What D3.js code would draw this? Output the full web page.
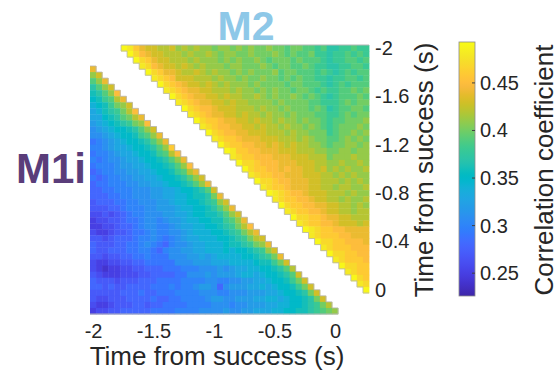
<!DOCTYPE html>
<html>
<head>
<meta charset="utf-8">
<script src="https://cdn.jsdelivr.net/npm/d3@7"></script>
<style>
  body { margin: 0; background: #fff; }
  svg { display: block; }
  text { font-family: "Liberation Sans", Arial, Helvetica, sans-serif; }
</style>
</head>
<body>
<svg id="chart" width="558" height="379"></svg>
<script>
// Time bins: -2 s .. 0 s in 50 ms steps
const timeBins = d3.range(41).map(i => +(-2 + i * 0.05).toFixed(2));
const xTicks = [-2, -1.5, -1, -0.5, 0];
const yTicks = [-2, -1.6, -1.2, -0.8, -0.4, 0];
const cbTicks = [0.25, 0.3, 0.35, 0.4, 0.45];
const cbDomain = [0.226, 0.493];

// M1i correlation (x100); row r holds columns 0..r
const m1iRows = [
  [44],
  [41,43],
  [39,41,44],
  [37,39,41,43],
  [36,37,39,41,45],
  [35,36,38,39,42,44],
  [34,35,36,38,40,41,43],
  [33,34,36,37,38,40,42,45],
  [33,33,35,36,37,39,40,42,44],
  [32,33,34,35,36,37,38,40,41,45],
  [31,32,33,34,35,35,36,37,39,41,43],
  [31,31,32,33,34,35,35,36,38,39,41,44],
  [29,30,31,32,33,34,35,35,36,37,39,41,44],
  [30,30,31,32,33,33,34,35,35,36,37,39,41,46],
  [29,30,30,31,32,33,33,34,35,35,36,38,39,42,45],
  [30,29,30,31,31,32,33,33,34,35,35,36,37,39,41,44],
  [29,30,30,30,31,32,32,33,33,34,35,35,36,37,39,41,45],
  [28,29,30,30,31,31,32,32,33,33,34,35,35,36,38,39,42,44],
  [29,28,29,30,30,31,31,32,32,33,33,34,35,35,36,37,39,41,43],
  [28,29,29,30,30,30,31,31,32,32,33,33,34,35,35,36,37,39,41,44],
  [28,28,29,29,30,30,30,31,31,31,32,32,33,33,34,35,35,36,37,39,43],
  [28,28,28,29,29,30,30,31,31,31,32,32,33,33,34,34,35,36,36,37,40,44],
  [27,28,28,28,29,29,30,30,31,31,31,32,32,33,34,34,35,35,36,37,38,41,43],
  [27,27,27,28,28,29,30,30,30,31,31,32,32,32,33,34,34,35,35,36,37,39,41,44],
  [26,26,27,26,27,28,29,30,30,31,31,31,32,32,33,33,34,35,35,36,36,37,39,41,43],
  [25,26,26,27,27,28,29,29,30,31,31,30,31,32,32,33,34,34,35,35,36,36,38,39,41,44],
  [25,25,26,26,27,28,28,29,30,31,31,30,30,31,32,33,33,34,34,35,35,36,37,38,40,42,45],
  [26,25,25,26,27,27,28,29,29,30,31,30,30,31,31,32,33,34,34,34,35,35,36,37,38,40,42,44],
  [27,27,26,27,28,28,28,29,30,30,31,30,29,30,31,32,33,33,34,34,34,35,35,36,37,38,40,42,43],
  [28,27,27,27,28,28,29,29,30,31,30,29,28,30,31,31,32,33,33,34,34,34,35,36,36,37,38,40,41,44],
  [28,27,27,28,28,28,29,29,30,30,29,28,30,31,31,32,32,33,33,34,34,34,35,34,35,35,36,37,38,41,43],
  [27,27,26,27,27,28,28,29,29,30,29,29,29,31,31,31,32,32,33,32,33,34,34,34,34,35,35,36,37,38,40,44],
  [26,25,25,26,26,27,27,28,28,29,29,29,29,29,31,31,31,32,32,32,33,33,33,34,34,34,34,35,36,36,38,40,43],
  [26,25,24,25,25,26,26,27,27,28,28,28,29,29,29,30,30,30,31,31,31,32,31,32,33,33,34,34,35,35,36,37,39,42],
  [27,26,25,25,25,26,26,26,27,27,28,28,28,28,29,29,31,31,31,32,31,32,32,32,33,34,34,33,34,35,35,36,37,39,43],
  [28,27,27,27,26,27,27,27,28,28,28,29,29,29,29,30,30,30,30,31,31,30,30,31,31,32,32,33,33,34,35,35,36,38,40,43],
  [28,28,27,28,27,27,28,28,28,28,29,29,29,30,29,30,30,31,32,32,31,28,31,32,32,32,33,33,34,33,34,35,35,36,38,40,43],
  [27,27,27,27,27,28,28,28,29,28,28,29,29,29,30,30,30,30,31,31,31,30,30,31,31,31,32,32,32,33,33,34,35,35,36,37,40,43],
  [27,26,26,27,27,27,28,28,28,28,29,28,28,29,29,30,30,30,30,31,32,32,31,31,32,32,32,33,33,34,34,33,34,35,35,36,37,40,43],
  [26,25,25,26,27,27,27,28,28,27,28,28,29,29,29,29,30,30,30,30,31,31,31,30,31,31,32,32,32,33,33,34,34,35,35,36,37,38,40,42],
  [25,26,26,27,27,28,28,28,28,28,29,29,29,29,30,30,30,30,31,31,31,31,32,31,31,32,32,33,33,33,34,34,35,35,36,36,37,38,39,40,41]
];

// M2 correlation (x100); row r holds columns r..40
const m2Rows = [
  [49,48,46,44,43,43,42,42,43,41,42,41,42,41,41,40,41,41,40,41,40,41,40,40,41,40,40,39,40,40,39,39,38,39,37,37,38,38,39,38,38],
  [49,47,45,44,43,43,42,42,42,41,42,41,41,42,41,40,41,41,40,40,41,40,40,40,41,40,39,40,39,39,40,38,38,37,38,38,39,38,39,38],
  [49,47,46,44,43,43,42,42,42,41,42,41,41,41,40,41,40,41,40,40,41,40,39,40,40,40,39,40,39,39,39,38,37,38,38,39,39,38,39],
  [48,47,45,44,43,43,42,43,42,41,42,41,41,41,40,41,41,40,40,40,41,40,39,40,40,39,39,40,39,38,38,37,37,38,38,39,39,38],
  [49,47,46,44,44,43,42,42,43,42,41,42,41,41,40,41,40,41,40,40,40,41,39,40,40,39,39,39,38,39,38,37,38,39,38,39,39],
  [48,47,46,45,43,43,43,42,42,42,41,42,41,41,40,41,40,40,41,40,40,39,40,39,40,39,39,38,38,37,38,38,39,39,38,39],
  [49,47,46,45,44,43,43,42,43,42,41,42,41,41,41,40,41,40,40,40,40,39,40,40,39,39,39,38,37,38,39,38,39,39,39],
  [48,47,46,45,44,44,43,43,42,42,42,41,42,41,41,40,41,40,41,40,40,39,40,40,39,38,39,38,38,39,39,40,39,40],
  [49,47,46,45,44,44,43,43,42,43,42,42,41,41,42,41,40,41,40,40,41,40,39,40,39,38,37,38,39,39,39,40,39],
  [48,47,46,45,44,44,43,43,42,43,42,42,41,41,41,41,40,41,40,40,40,40,39,39,38,38,38,39,40,39,40,40],
  [49,47,46,45,45,44,43,43,43,42,42,42,41,42,41,41,40,41,40,40,40,39,40,39,37,38,39,39,40,40,39],
  [48,47,46,45,44,44,43,43,42,43,42,42,41,42,41,41,40,41,40,40,40,39,39,38,38,39,40,39,40,40],
  [49,47,46,46,45,44,44,43,43,42,43,42,42,41,42,41,41,40,41,40,40,39,38,39,39,40,40,40,41],
  [48,47,46,45,45,44,44,43,43,42,43,42,42,41,42,41,41,40,41,40,39,38,39,40,40,40,41,40],
  [49,47,46,45,45,44,44,43,43,43,42,42,42,41,42,41,41,40,40,40,38,39,40,40,41,40,41],
  [48,47,46,46,45,44,44,44,43,43,43,42,42,42,41,42,41,40,40,39,39,40,41,40,41,40],
  [49,47,46,46,45,45,44,44,43,44,43,42,43,42,42,41,41,40,39,40,40,41,41,40,41],
  [49,48,46,46,45,45,44,44,44,43,43,43,42,42,42,41,41,40,40,41,41,40,41,41],
  [48,47,46,46,45,45,45,44,44,44,43,43,43,42,42,42,40,41,41,41,42,41,41],
  [49,47,47,46,45,45,45,44,44,44,43,43,43,42,42,41,41,42,41,41,42,41],
  [49,47,46,46,45,45,44,45,44,44,43,43,42,43,41,42,41,42,41,41,42],
  [48,47,46,46,45,45,44,44,44,43,43,43,42,42,41,42,41,42,41,41],
  [49,47,47,46,45,45,44,44,44,43,43,42,42,42,41,42,41,42,41],
  [48,47,46,46,45,44,44,44,43,43,42,42,41,42,42,41,41,42],
  [49,48,47,46,45,45,44,43,43,43,42,42,42,41,42,41,41],
  [48,47,46,46,45,45,44,43,43,42,42,41,42,41,41,42],
  [49,47,46,46,45,45,44,44,43,43,42,42,41,42,41],
  [48,47,46,46,45,45,44,43,43,42,42,41,42,42],
  [49,47,47,46,46,45,44,44,43,43,42,42,42],
  [48,47,46,46,45,45,44,43,43,43,42,43],
  [49,48,47,46,46,45,45,44,44,44,44],
  [48,47,46,46,46,45,45,44,44,44],
  [49,47,47,46,46,45,45,45,44],
  [48,47,46,46,46,45,45,45],
  [49,47,47,46,46,45,45],
  [48,47,46,46,46,45],
  [49,47,47,46,46],
  [48,47,46,46],
  [49,47,46],
  [48,47],
  [49]
];

// Parula colormap control colours
const parulaStops = [
  [0.2422,0.1504,0.6603],[0.2504,0.1650,0.7076],[0.2578,0.1818,0.7511],[0.2647,0.1978,0.7952],
  [0.2706,0.2147,0.8364],[0.2751,0.2342,0.8710],[0.2783,0.2559,0.8991],[0.2803,0.2782,0.9221],
  [0.2813,0.3006,0.9414],[0.2810,0.3228,0.9579],[0.2795,0.3447,0.9717],[0.2760,0.3667,0.9829],
  [0.2699,0.3892,0.9906],[0.2602,0.4123,0.9952],[0.2440,0.4358,0.9988],[0.2206,0.4603,0.9973],
  [0.1963,0.4847,0.9892],[0.1834,0.5074,0.9798],[0.1786,0.5289,0.9682],[0.1764,0.5499,0.9520],
  [0.1687,0.5703,0.9359],[0.1540,0.5902,0.9218],[0.1460,0.6091,0.9079],[0.1380,0.6276,0.8973],
  [0.1248,0.6459,0.8883],[0.1113,0.6635,0.8763],[0.0952,0.6798,0.8598],[0.0689,0.6948,0.8394],
  [0.0297,0.7082,0.8163],[0.0036,0.7203,0.7917],[0.0067,0.7312,0.7660],[0.0433,0.7411,0.7394],
  [0.0964,0.7500,0.7120],[0.1408,0.7584,0.6842],[0.1717,0.7670,0.6554],[0.1938,0.7758,0.6251],
  [0.2161,0.7843,0.5923],[0.2470,0.7918,0.5567],[0.2906,0.7973,0.5188],[0.3406,0.8008,0.4789],
  [0.3909,0.8029,0.4354],[0.4456,0.8024,0.3909],[0.5044,0.7993,0.3480],[0.5616,0.7942,0.3045],
  [0.6174,0.7876,0.2612],[0.6720,0.7793,0.2227],[0.7242,0.7698,0.1910],[0.7738,0.7598,0.1646],
  [0.8203,0.7498,0.1535],[0.8634,0.7406,0.1596],[0.9035,0.7330,0.1774],[0.9393,0.7288,0.2100],
  [0.9728,0.7298,0.2394],[0.9956,0.7434,0.2371],[0.9970,0.7659,0.2199],[0.9952,0.7893,0.2028],
  [0.9892,0.8136,0.1885],[0.9786,0.8386,0.1766],[0.9676,0.8639,0.1643],[0.9610,0.8890,0.1537],
  [0.9597,0.9135,0.1423],[0.9628,0.9373,0.1265],[0.9691,0.9606,0.1064],[0.9769,0.9839,0.0805]
];

const svg = d3.select("#chart");
const textColor = "#262626";
const edgeColor = "#b5b5b5";
const font = "'Liberation Sans', Arial, sans-serif";

const parulaHex = parulaStops.map(c => d3.rgb(c[0] * 255, c[1] * 255, c[2] * 255).formatHex());
const color = d3.scaleLinear()
  .domain(parulaHex.map((_, i) => cbDomain[0] + (cbDomain[1] - cbDomain[0]) * i / (parulaHex.length - 1)))
  .range(parulaHex)
  .interpolate(d3.interpolateRgb)
  .clamp(true);

// Cell grids for the two triangles
const lowerX = d3.scaleBand().domain(timeBins).range([90, 338]);
const lowerY = d3.scaleBand().domain(timeBins).range([66, 314]);
const upperX = d3.scaleBand().domain(timeBins).range([121, 369]);
const upperY = d3.scaleBand().domain(timeBins).range([45, 293]);
const bw = lowerX.bandwidth();

// Continuous scales for the axes
const lowerXLin = d3.scaleLinear().domain([-2.025, 0.025]).range([90, 338]);
const upperYLin = d3.scaleLinear().domain([-2.025, 0.025]).range([45, 293]);

const lowerCells = m1iRows.flatMap((row, r) => row.map((v, i) => ({ r, c: i, v: v / 100 })));
const upperCells = m2Rows.flatMap((row, r) => row.map((v, i) => ({ r, c: r + i, v: v / 100 })));

svg.append("g").attr("class", "m1i")
  .selectAll("rect").data(lowerCells).join("rect")
  .attr("x", d => lowerX(timeBins[d.c]))
  .attr("y", d => lowerY(timeBins[d.r]))
  .attr("width", bw + 0.4)
  .attr("height", bw + 0.4)
  .attr("fill", d => color(d.v));

svg.append("g").attr("class", "m2")
  .selectAll("rect").data(upperCells).join("rect")
  .attr("x", d => upperX(timeBins[d.c]))
  .attr("y", d => upperY(timeBins[d.r]))
  .attr("width", bw + 0.4)
  .attr("height", bw + 0.4)
  .attr("fill", d => color(d.v));

// Staircase edges along the diagonals
const lowerEdge = d3.path();
lowerEdge.moveTo(lowerX(timeBins[0]), lowerY(timeBins[0]));
timeBins.forEach(t => {
  lowerEdge.lineTo(lowerX(t) + bw, lowerY(t));
  lowerEdge.lineTo(lowerX(t) + bw, lowerY(t) + bw);
});
svg.append("path").attr("d", lowerEdge.toString())
  .attr("fill", "none").attr("stroke", edgeColor).attr("stroke-width", 0.8);

const upperEdge = d3.path();
upperEdge.moveTo(upperX(timeBins[0]), upperY(timeBins[0]));
timeBins.forEach(t => {
  upperEdge.lineTo(upperX(t), upperY(t) + bw);
  upperEdge.lineTo(upperX(t) + bw, upperY(t) + bw);
});
svg.append("path").attr("d", upperEdge.toString())
  .attr("fill", "none").attr("stroke", edgeColor).attr("stroke-width", 0.8);

// Outer edges: bottom of M1i, top of M2
svg.append("line")
  .attr("x1", lowerXLin.range()[0]).attr("x2", lowerXLin.range()[1])
  .attr("y1", 314).attr("y2", 314)
  .attr("stroke", edgeColor).attr("stroke-width", 1);
svg.append("line")
  .attr("x1", upperX.range()[0]).attr("x2", upperX.range()[1])
  .attr("y1", 45).attr("y2", 45)
  .attr("stroke", edgeColor).attr("stroke-width", 1);

// Bottom axis
const xAxis = svg.append("g")
  .attr("transform", "translate(0,314)")
  .call(d3.axisBottom(lowerXLin).tickValues(xTicks).tickFormat(d => String(d)).tickSize(0).tickPadding(10));
xAxis.select(".domain").remove();
xAxis.selectAll("text").attr("font-size", 20).attr("fill", textColor).attr("font-family", font);

svg.append("text")
  .attr("x", 217).attr("y", 365)
  .attr("text-anchor", "middle")
  .attr("font-size", 26).attr("fill", textColor)
  .text("Time from success (s)");

// Right axis
const yAxis = svg.append("g")
  .attr("transform", "translate(369,0)")
  .call(d3.axisRight(upperYLin).tickValues(yTicks).tickFormat(d => String(d)).tickSize(0).tickPadding(6));
yAxis.select(".domain").remove();
yAxis.selectAll("text").attr("font-size", 20).attr("fill", textColor).attr("font-family", font);

svg.append("text")
  .attr("transform", "translate(433,170) rotate(-90)")
  .attr("text-anchor", "middle")
  .attr("font-size", 26).attr("fill", textColor)
  .text("Time from success (s)");

// Colorbar
const cbX = 459, cbW = 16;
const cbY = d3.scaleLinear().domain(cbDomain).range([296, 42]);
const defs = svg.append("defs");
const grad = defs.append("linearGradient").attr("id", "parula-grad")
  .attr("x1", 0).attr("y1", 1).attr("x2", 0).attr("y2", 0);
grad.selectAll("stop").data(parulaHex).join("stop")
  .attr("offset", (d, i) => i / (parulaHex.length - 1))
  .attr("stop-color", d => d);
svg.append("rect")
  .attr("x", cbX).attr("y", cbY.range()[1])
  .attr("width", cbW).attr("height", cbY.range()[0] - cbY.range()[1])
  .attr("fill", "url(#parula-grad)")
  .attr("stroke", "#8c8c8c").attr("stroke-width", 0.8);

const cbAxis = svg.append("g")
  .attr("transform", `translate(${cbX + cbW},0)`)
  .call(d3.axisRight(cbY).tickValues(cbTicks).tickFormat(d => String(d)).tickSize(0).tickPadding(5));
cbAxis.select(".domain").remove();
cbAxis.selectAll("text").attr("font-size", 20).attr("fill", textColor).attr("font-family", font);
svg.append("g").selectAll("line").data(cbTicks).join("line")
  .attr("x1", cbX + cbW - 3).attr("x2", cbX + cbW)
  .attr("y1", d => cbY(d)).attr("y2", d => cbY(d))
  .attr("stroke", "#404040").attr("stroke-width", 1);

svg.append("text")
  .attr("transform", "translate(553,170) rotate(-90)")
  .attr("text-anchor", "middle")
  .attr("font-size", 26).attr("fill", textColor)
  .text("Correlation coefficient");

// Area titles
svg.append("text")
  .attr("x", 246).attr("y", 40)
  .attr("text-anchor", "middle")
  .attr("font-size", 41).attr("font-weight", "bold")
  .attr("fill", "#8ec8e8")
  .text("M2");

svg.append("text")
  .attr("x", 16).attr("y", 183)
  .attr("font-size", 42).attr("font-weight", "bold")
  .attr("fill", "#5a3d7a")
  .text("M1i");
</script>
</body>
</html>
